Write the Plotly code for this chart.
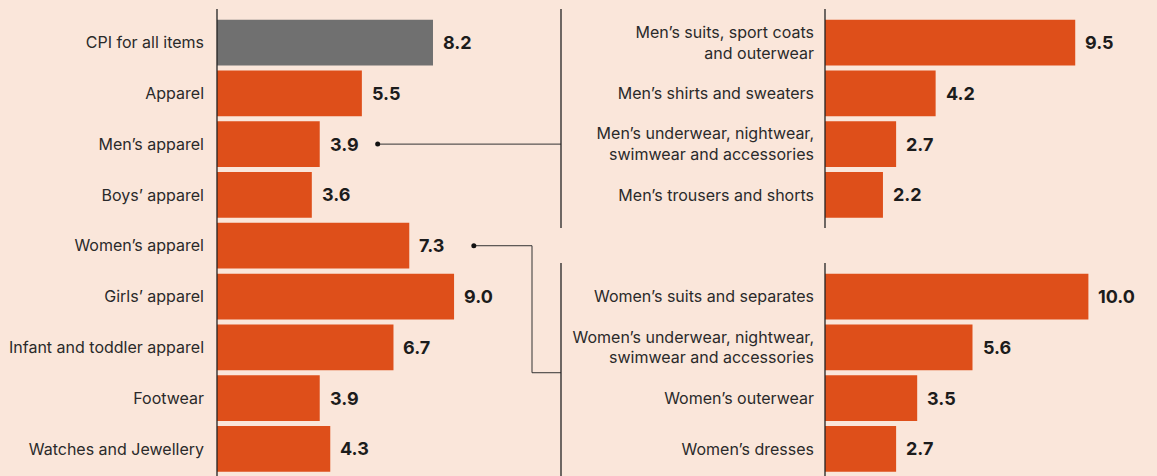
import plotly.graph_objects as go

# data
left_labels = ["CPI for all items", "Apparel", "Men’s apparel", "Boys’ apparel",
               "Women’s apparel", "Girls’ apparel", "Infant and toddler apparel",
               "Footwear", "Watches and Jewellery"]
left_values = [8.2, 5.5, 3.9, 3.6, 7.3, 9.0, 6.7, 3.9, 4.3]

men_labels = ["Men’s suits, sport coats<br>and outerwear", "Men’s shirts and sweaters",
              "Men’s underwear, nightwear,<br>swimwear and accessories",
              "Men’s trousers and shorts"]
men_values = [9.5, 4.2, 2.7, 2.2]

women_labels = ["Women’s suits and separates",
                "Women’s underwear, nightwear,<br>swimwear and accessories",
                "Women’s outerwear", "Women’s dresses"]
women_values = [10.0, 5.6, 3.5, 2.7]

W, H = 1157, 476
BG = "#FAE6DA"
ORANGE = "#DE4F1A"
GREY = "#707070"
INK = "#1c1c1c"
FONT = "Inter"

PX = 26.34          # pixels per unit
LEFT_X0, RIGHT_X0, DIV_X = 217, 825, 561

left_rows = list(range(len(left_labels)))
men_rows = [0, 1, 2, 3]
women_rows = [5, 6, 7, 8]
right_rows = men_rows + women_rows
right_labels = men_labels + women_labels
right_values = men_values + women_values

left_colors = [GREY] + [ORANGE] * (len(left_values) - 1)

fig = go.Figure()
fig.add_trace(go.Bar(x=left_values, y=left_rows, orientation="h", width=0.9,
                     marker=dict(color=left_colors, line_width=0),
                     xaxis="x", yaxis="y", hoverinfo="skip"))
fig.add_trace(go.Bar(x=right_values, y=right_rows, orientation="h", width=0.9,
                     marker=dict(color=ORANGE, line_width=0),
                     xaxis="x2", yaxis="y2", hoverinfo="skip"))

# value labels
vfont = dict(family=FONT, size=18, color=INK, weight="bold")
ann = []
for v, r in zip(left_values, left_rows):
    ann.append(dict(x=v, y=r, xref="x", yref="y", text=f"{v:.1f}", showarrow=False,
                    xanchor="left", xshift=8, font=vfont))
for v, r in zip(right_values, right_rows):
    ann.append(dict(x=v, y=r, xref="x2", yref="y2", text=f"{v:.1f}", showarrow=False,
                    xanchor="left", xshift=8, font=vfont))

# connectors (left axis units)
div_u = (DIV_X - LEFT_X0) / PX
men_i, women_i = 2, 4
men_dot = left_values[men_i] + 2.2
women_dot = left_values[women_i] + 2.45
elbow = (532 - LEFT_X0) / PX
fig.add_trace(go.Scatter(x=[men_dot, div_u], y=[men_i, men_i], mode="lines",
                         line=dict(color="#333", width=1), xaxis="x", yaxis="y", hoverinfo="skip"))
fig.add_trace(go.Scatter(x=[women_dot, elbow, elbow, div_u], y=[women_i, women_i, 6.5, 6.5],
                         mode="lines", line=dict(color="#333", width=1), xaxis="x", yaxis="y",
                         hoverinfo="skip"))
fig.add_trace(go.Scatter(x=[men_dot, women_dot], y=[men_i, women_i], mode="markers",
                         marker=dict(color="#111", size=5), xaxis="x", yaxis="y", hoverinfo="skip"))

line = dict(color="#222", width=1.3)
shapes = [
    dict(type="line", xref="paper", yref="y", x0=LEFT_X0 / W, x1=LEFT_X0 / W, y0=-0.66, y1=8.6, line=line),
    dict(type="line", xref="paper", yref="y", x0=DIV_X / W, x1=DIV_X / W, y0=-0.66, y1=3.65, line=line),
    dict(type="line", xref="paper", yref="y", x0=RIGHT_X0 / W, x1=RIGHT_X0 / W, y0=-0.66, y1=3.65, line=line),
    dict(type="line", xref="paper", yref="y", x0=DIV_X / W, x1=DIV_X / W, y0=4.34, y1=8.6, line=line),
    dict(type="line", xref="paper", yref="y", x0=RIGHT_X0 / W, x1=RIGHT_X0 / W, y0=4.34, y1=8.6, line=line),
]

yrange = [8.533, -0.837]
fig.update_layout(
    width=W, height=H, margin=dict(l=0, r=0, t=0, b=0),
    paper_bgcolor=BG, plot_bgcolor=BG, showlegend=False, bargap=0.1,
    font=dict(family=FONT, size=16, color="#2a2a2a"),
    xaxis=dict(domain=[LEFT_X0 / W, RIGHT_X0 / W], range=[0, (RIGHT_X0 - LEFT_X0) / PX],
               visible=False, fixedrange=True),
    xaxis2=dict(domain=[RIGHT_X0 / W, 1], range=[0, (W - RIGHT_X0) / PX],
                visible=False, fixedrange=True),
    yaxis=dict(range=yrange, tickvals=left_rows, ticktext=left_labels, showgrid=False,
               zeroline=False, showline=False, ticks="", ticklabelstandoff=12, anchor="x"),
    yaxis2=dict(range=yrange, tickvals=right_rows, ticktext=right_labels, showgrid=False,
                zeroline=False, showline=False, ticks="", ticklabelstandoff=10, anchor="x2"),
    annotations=ann, shapes=shapes,
)

fig.write_html("out.html", config={"displayModeBar": False},
               post_script="document.body.style.margin='0';")
